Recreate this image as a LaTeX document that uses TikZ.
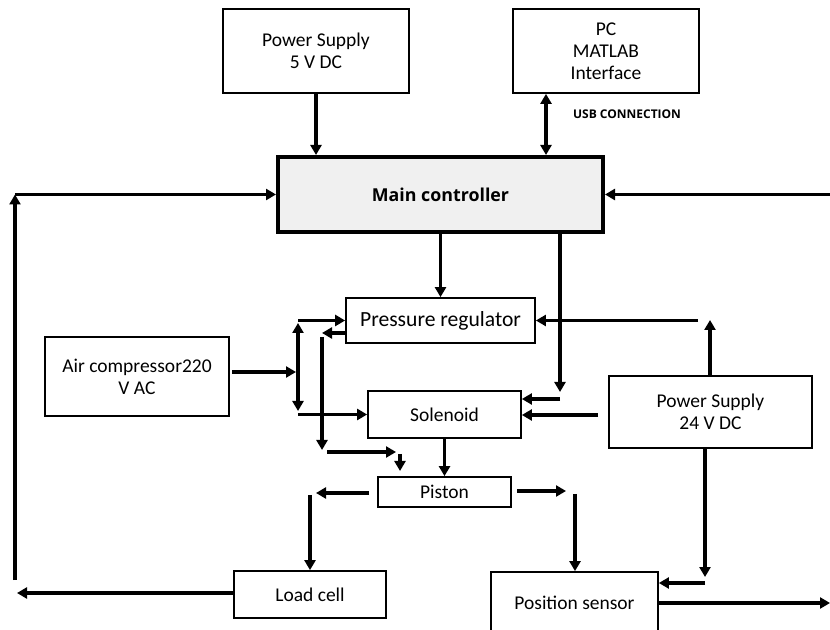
\documentclass[tikz,border=0pt]{standalone}
\usepackage{fontspec}
\setmainfont{Carlito}
\newfontfamily\boldsans{Open Sans}
\usepackage{tikz}
\usetikzlibrary{arrows.meta}
\usepackage{xcolor}
\definecolor{ctrlgray}{RGB}{240, 240, 240}

\begin{document}
\begin{tikzpicture}[x=0.5pt, y=-0.5pt, >={Triangle[length=5pt, width=5.5pt]},
  blk/.style={draw, line width=0.9pt, align=center, inner sep=0pt,
    font=\fontsize{9.75}{11}\selectfont},
  arr/.style={->, line width=1.7pt}]
  \useasboundingbox (0,0) rectangle (830,630);
  \clip (0,0) rectangle (830,630);

  % blocks
  \node[blk, minimum width=93pt, minimum height=42pt] (ps5) at (316,51) {Power Supply\\5 V DC};
  \node[blk, minimum width=93pt, minimum height=42pt] (pc) at (606,51) {PC\\MATLAB\\Interface};
  \node[blk, minimum width=162.5pt, minimum height=37.5pt, fill=ctrlgray, line width=2pt,
    font=\boldsans\bfseries\fontsize{8.9}{10}\selectfont] (main) at (440.5,194.5) {Main controller};
  \node[blk, minimum width=94.5pt, minimum height=22.5pt,
    font=\fontsize{10.8}{12}\selectfont] (preg) at (440.5,320.5) {Pressure regulator};
  \node[blk, minimum width=92pt, minimum height=39.5pt] (air) at (137,376.5) {Air compressor220\\V AC};
  \node[blk, minimum width=76.5pt, minimum height=23.5pt] (sol) at (444.5,414.5) {Solenoid};
  \node[blk, minimum width=101.5pt, minimum height=36pt] (ps24) at (710.5,412) {Power Supply\\24 V DC};
  \node[blk, minimum width=66.5pt, minimum height=15pt] (piston) at (444.5,492) {Piston};
  \node[blk, minimum width=76pt, minimum height=23.5pt] (lcell) at (310,594.5) {Load cell};
  \node[blk, minimum width=83.5pt, minimum height=31pt] (pos) at (574.5,603) {Position sensor};

  % supply and pc links
  \draw[arr] (ps5.south) -- (ps5.south |- main.north);
  \coordinate (usb) at (546,0);
  \draw[arr, <->] (usb |- pc.south) -- (usb |- main.north);
  \node[anchor=west, font=\boldsans\bfseries\fontsize{6}{7}\selectfont] (usblbl) at (566,114) {USB CONNECTION};

  % feedback loops
  \coordinate (fbl) at (15,580);
  \draw[arr] (fbl) -- (fbl |- main.west);
  \draw[arr] (fbl |- main.west) -- (main.west);
  \coordinate (fbr) at (830,194.5);
  \draw[arr] (fbr) -- (main.east);

  % controller outputs
  \draw[arr] (main.south) -- (preg.north);
  \coordinate (ctlturn) at (560,392);
  \draw[arr] (main.south -| ctlturn) -- (ctlturn);
  \coordinate (solin) at (560,399);
  \draw[arr] (solin) -- (solin -| sol.east);

  % 24 V supply
  \coordinate (psup) at (710,320);
  \draw[arr] (ps24.north -| psup) -- (psup);
  \coordinate (pregin) at (698,320.5);
  \draw[arr] (pregin) -- (preg.east);
  \coordinate (solin2) at (598,415);
  \draw[arr] (solin2) -- (solin2 -| sol.east);
  \coordinate (psdown) at (705,577);
  \draw[arr] (ps24.south -| psdown) -- (psdown);
  \coordinate (posin) at (705,583);
  \draw[arr] (posin) -- (posin -| pos.east);
  \coordinate (posout) at (830,603);
  \draw[arr] (posout -| pos.east) -- (posout);

  % air lines
  \coordinate (airjoin) at (296,372);
  \draw[arr] (232,372) -- (airjoin);
  \draw[arr, <->] (298,323) -- (298,411);
  \coordinate (bustop) at (298,320.5);
  \coordinate (busbot) at (298,414.5);
  \draw[arr] (bustop) -- (preg.west);
  \draw[arr] (busbot) -- (sol.west);
  \coordinate (exh) at (322,333);
  \draw[arr] (exh -| preg.west) -- (exh);
  \coordinate (exhtop) at (322,337);
  \coordinate (exhdown) at (322,450);
  \draw[arr] (exhtop) -- (exhdown);
  \coordinate (pisa) at (327,452);
  \coordinate (pisb) at (396,452);
  \draw[arr] (pisa) -- (pisb);
  \coordinate (pisc) at (400,454);
  \coordinate (pisd) at (400,471);
  \draw[arr] (pisc) -- (pisd);

  % piston outputs
  \draw[arr] (sol.south) -- (piston.north);
  \coordinate (pl) at (369,493);
  \coordinate (pl2) at (316,493);
  \draw[arr] (pl) -- (pl2);
  \coordinate (ldown) at (310,495);
  \draw[arr] (ldown) -- (lcell.north);
  \coordinate (pr) at (517,491);
  \coordinate (pr2) at (566,491);
  \draw[arr] (pr) -- (pr2);
  \coordinate (rdown) at (575,494);
  \draw[arr] (rdown) -- (rdown |- pos.north);
  \coordinate (lout) at (17,593);
  \draw[arr] (lcell.west |- lout) -- (lout);

\end{tikzpicture}
\end{document}
